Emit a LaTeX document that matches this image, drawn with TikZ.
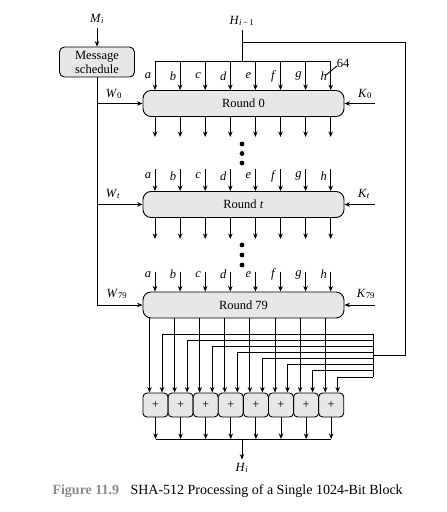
\documentclass[tikz,border=0pt]{standalone}
\usepackage{fontspec}
\setmainfont{Liberation Serif}
\usetikzlibrary{arrows.meta, positioning, calc}

\definecolor{boxgray}{RGB}{230,231,232}
\definecolor{capgray}{RGB}{140,140,140}
\newcommand{\sy}[2]{\textit{#1}\textsubscript{#2}}

\begin{document}
\begin{tikzpicture}[
        x=1pt, y=-1pt,
        >={Stealth[length=5.5pt,width=4.5pt]},
        every node/.style={font=\fontsize{12.5}{14}\selectfont},
        wire/.style={line width=0.9pt},
        roundbox/.style={draw, line width=0.9pt, fill=boxgray, rounded corners=8pt,
            minimum width=201pt, minimum height=26pt, inner sep=0pt},
        plusbox/.style={draw, line width=0.9pt, fill=boxgray, rounded corners=4pt,
            minimum width=25.1pt, minimum height=24pt, inner sep=0pt}
    ]
    \useasboundingbox (0,0) rectangle (447,512);
    % inputs
    \node (Mi) at (97,19) {\sy{M}{\textit{i}}};
    \node (msg) [draw, line width=0.9pt, fill=boxgray, rounded corners=5pt,
        minimum width=75pt, minimum height=30pt, inner sep=0pt, align=center]
        at (97,62) {Message\\schedule};
    \node (Hprev) at (242,21) {\sy{H}{\textit{i}\,−\,1}};
    \draw[->, wire] (Mi) -- (msg);
    % rounds
    \node (r0) [roundbox] at (243.5,103.5) {Round 0};
    \node (rt) [roundbox] at (243.5,204.5) {Round \textit{t}};
    \node (r79) [roundbox] at (243.5,305) {Round 79};
    \coordinate (hb) at (242,61);
    \coordinate (hsplit) at (242,42);
    \coordinate (fbr) at (405,355);
    \coordinate (fbl) at (373,355);
    \draw[wire] (Hprev) -- (hb);
    \draw[wire] (hsplit) -| (fbr) -- (fbl);
    \foreach \k/\l in {0/a,1/b,2/c,3/d,4/e,5/f,6/g,7/h} {
        \coordinate (c\k) at (155+25.1*\k,61);
        \draw[->, wire] (c\k) -- (c\k |- r0.north);
        \draw[->, wire] (c\k |- r0.south) -- ++(0,20);
        \draw[->, wire] ($(c\k |- rt.north)+(0,-22)$) -- (c\k |- rt.north);
        \draw[->, wire] (c\k |- rt.south) -- ++(0,21);
        \draw[->, wire] ($(c\k |- r79.north)+(0,-20)$) -- (c\k |- r79.north);
        \node at ($(c\k)+(-7,15)$) {\textit{\l}};
        \node at ($(c\k |- rt.north)+(-7,-15)$) {\textit{\l}};
        \node at ($(c\k |- r79.north)+(-7,-17)$) {\textit{\l}};
    }
    \draw[wire] (c0) -- (c7);
    \draw[wire] (326,75) -- (337,66);
    \node at (343,63) {64};
    % dots
    \foreach \y in {144,153.5,163,245,255,265}
        \fill (242,\y) circle (2.4);
    % W and K
    \draw[->, wire] (msg.south) |- (r79.west);
    \draw[->, wire] (msg.south |- r0.west) -- (r0.west);
    \draw[->, wire] (msg.south |- rt.west) -- (rt.west);
    \node at (114,94) {\sy{W}{0}};
    \node at (113,194) {\sy{W}{\textit{t}}};
    \node at (117,294) {\sy{W}{79}};
    \draw[->, wire] ($(r0.east)+(31,0)$) -- (r0.east);
    \draw[->, wire] ($(rt.east)+(31,0)$) -- (rt.east);
    \draw[->, wire] ($(r79.east)+(31,0)$) -- (r79.east);
    \node at (365,94) {\sy{K}{0}};
    \node at (364,194) {\sy{K}{\textit{t}}};
    \node at (366,294) {\sy{K}{79}};
    % additions
    \foreach \k in {0,...,7} {
        \node (p\k) [plusbox] at (155.5+25.1*\k,405) {+};
        \coordinate (o\k) at ($(p\k.north)+(-6,0)$);
        \coordinate (i\k) at ($(p\k.north)+(6.5,0)$);
        \coordinate (b\k) at (373,334+6.15*\k);
        \draw[->, wire] (o\k |- r79.south) -- (o\k);
        \draw[->, wire] (b\k) -| (i\k);
    }
    \draw[wire] (b0) -- (b7);
    \coordinate (hbus) at (242,439);
    \foreach \k in {0,...,7}
        \draw[->, wire] (p\k.south) -- (p\k.south |- hbus);
    \draw[wire] (p0.south |- hbus) -- (p7.south |- hbus);
    \node (Hi) at (242,468) {\sy{H}{\textit{i}}};
    \draw[->, wire] (hbus) -- (Hi);
    % caption
    \node (fig) [anchor=west, font=\fontsize{14}{16}\selectfont\bfseries, text=capgray]
        at (49,491) {Figure 11.9};
    \node (cap) [anchor=west, font=\fontsize{14}{16}\selectfont] at (127,491)
        {SHA-512 Processing of a Single 1024-Bit Block};
\end{tikzpicture}
\end{document}
